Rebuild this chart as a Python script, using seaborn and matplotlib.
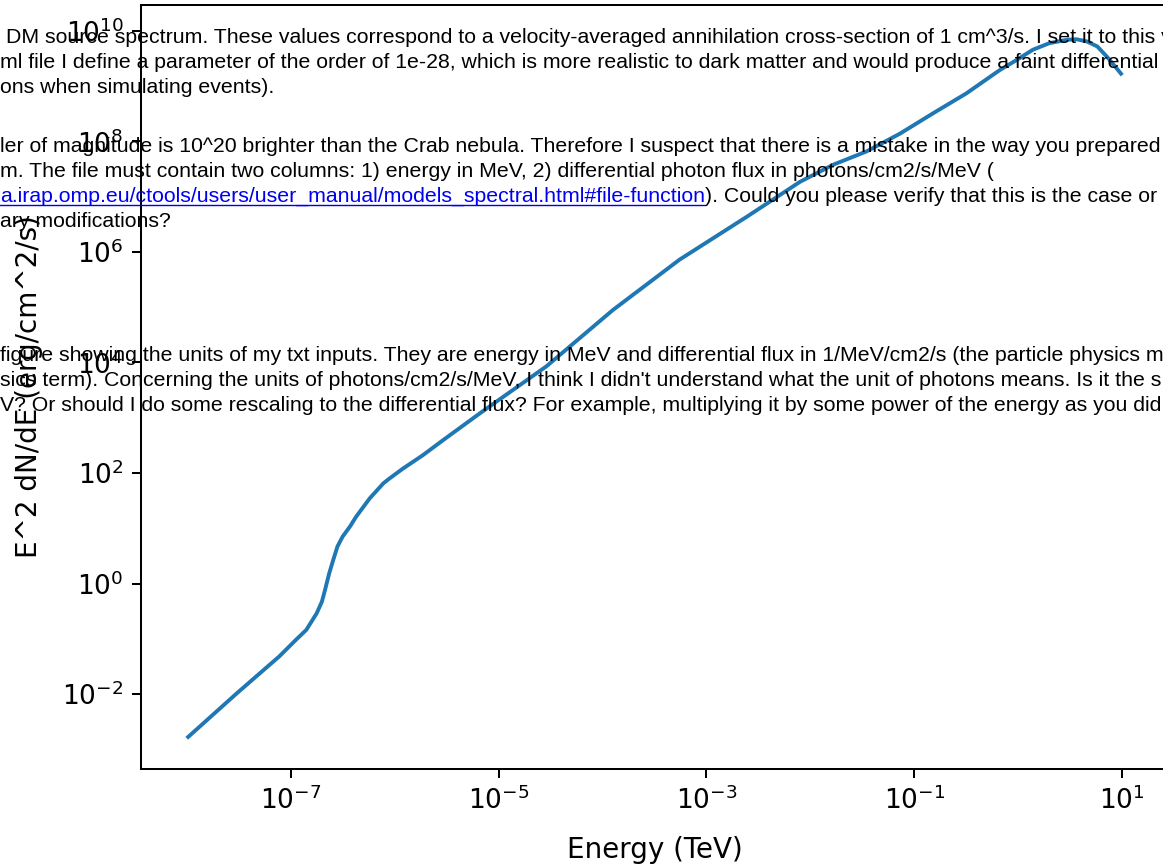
"""
Spectrum plot with forum text lying over it
"""

import numpy as np
import pandas as pd
import matplotlib
matplotlib.use('Agg')
import matplotlib.pyplot as plt
import seaborn as sns
from matplotlib.lines import Line2D

"""
Data (read off the picture, log10 values)
"""
log_energy = [-8.00, -7.84, -7.52, -7.30, -7.11, -6.95, -6.85, -6.80, -6.75,
              -6.70, -6.67, -6.63, -6.59, -6.55, -6.50, -6.43, -6.37, -6.24,
              -6.11, -6.05, -5.92, -5.73, -5.53, -5.18, -4.54, -3.90, -3.26,
              -2.61, -2.10, -1.78, -1.46, -1.14, -0.82, -0.50, -0.18, -0.02,
              0.14, 0.30, 0.47, 0.56, 0.66, 0.76, 0.85, 0.93, 1.00]
log_flux = [-2.80, -2.53, -1.99, -1.63, -1.32, -1.02, -0.84, -0.69, -0.54,
            -0.33, -0.12, 0.18, 0.43, 0.67, 0.85, 1.03, 1.21, 1.54,
            1.81, 1.90, 2.08, 2.32, 2.60, 3.08, 3.93, 4.95, 5.86,
            6.64, 7.27, 7.58, 7.82, 8.14, 8.51, 8.87, 9.29, 9.47,
            9.66, 9.78, 9.84, 9.85, 9.81, 9.72, 9.54, 9.36, 9.20]

x_ticks = [1e-7, 1e-5, 1e-3, 1e-1, 1e1]
y_ticks = [1e-2, 1e0, 1e2, 1e4, 1e6, 1e8, 1e10]

x_label = 'Energy (TeV)'
y_label = 'E^2 dN/dE (erg/cm^2/s)'

# forum post text, cut at both edges of the screenshot
block_1 = [
    'DM source spectrum. These values correspond to a velocity-averaged annihilation cross-section of 1 cm^3/s. I set it to this v',
    'ml file I define a parameter of the order of 1e-28, which is more realistic to dark matter and would produce a faint differential',
    'ons when simulating events).',
]
block_2_before_link = 'ler of magnitude is 10^20 brighter than the Crab nebula. Therefore I suspect that there is a mistake in the way you prepared'
block_2_line_2 = 'm. The file must contain two columns: 1) energy in MeV, 2) differential photon flux in photons/cm2/s/MeV ('
link_text = 'a.irap.omp.eu/ctools/users/user_manual/models_spectral.html#file-function'
after_link = '). Could you please verify that this is the case or'
block_2_line_4 = 'ary modifications?'
block_3 = [
    'figure showing the units of my txt inputs. They are energy in MeV and differential flux in 1/MeV/cm2/s (the particle physics m',
    "sics term). Concerning the units of photons/cm2/s/MeV, I think I didn't understand what the unit of photons means. Is it the s",
    'V? Or should I do some rescaling to the differential flux? For example, multiplying it by some power of the energy as you did',
]

W, H = 1163, 865


def px(x, y):
    return x / W, 1 - y / H


def main():
    spectrum = pd.DataFrame({
        'energy': np.power(10.0, log_energy),
        'flux': np.power(10.0, log_flux),
    })

    fig = plt.figure(figsize=(W / 100, H / 100), dpi=100)
    ax = fig.add_axes([141 / W, (H - 769) / H, (1169 - 141) / W, (769 - 5) / H])

    sns.lineplot(data=spectrum, x='energy', y='flux', ax=ax,
                 color='#1f77b4', linewidth=2.8, sort=False,
                 solid_joinstyle='round', solid_capstyle='butt')
    ax.set_xscale('log')
    ax.set_yscale('log')
    ax.set_xlim(10 ** -8.44, 10 ** 1.45)
    ax.set_ylim(10 ** -3.357, 10 ** 10.47)
    ax.set_xticks(x_ticks)
    ax.set_yticks(y_ticks)
    ax.minorticks_off()
    ax.tick_params(labelsize=19, length=6.4, width=1.45, pad=6)
    for s in ax.spines.values():
        s.set_linewidth(1.45)
    ax.set_xlabel(x_label, fontsize=20, labelpad=15)
    ax.set_ylabel(y_label, fontsize=20, labelpad=14)

    txt = dict(family='Liberation Sans', fontsize=15.3, color='black',
               va='baseline', zorder=10)
    for i, line in enumerate(block_1):
        fig.text(*px(6 if i == 0 else 0, 43 + 25 * i), line, **txt)
    fig.text(*px(0, 152), block_2_before_link, **txt)
    fig.text(*px(0, 177), block_2_line_2, **txt)
    link = fig.text(*px(0, 202), link_text, **dict(txt, color='#0000EE'))
    fig.text(*px(0, 227), block_2_line_4, **txt)
    for i, line in enumerate(block_3):
        fig.text(*px(0, 361 + 25 * i), line, **txt)

    # underline the link and continue the sentence after it
    fig.canvas.draw()
    bb = link.get_window_extent(fig.canvas.get_renderer())
    base = H - 202
    fig.add_artist(Line2D([bb.x0 / W, bb.x1 / W], [(base - 3) / H] * 2,
                          color='#0000EE', linewidth=1.0, zorder=10))
    fig.text(bb.x1 / W, base / H, after_link, **txt)

    fig.savefig('out.png', dpi=100)
    plt.close(fig)


if __name__ == '__main__':
    main()
